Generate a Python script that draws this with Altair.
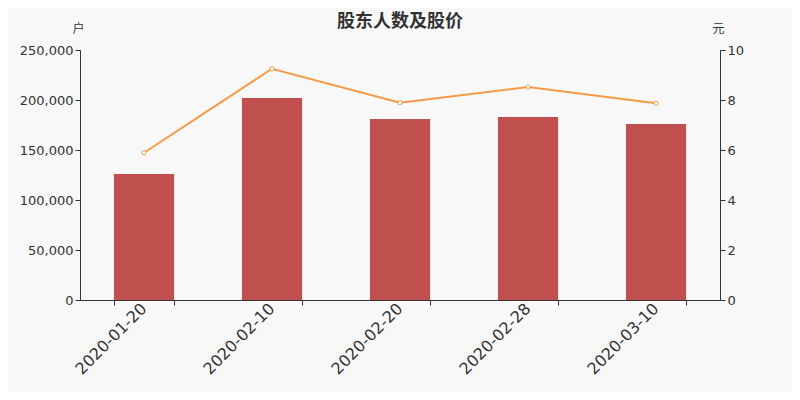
import altair as alt
import pandas as pd

dates = ["2020-01-20", "2020-02-10", "2020-02-20", "2020-02-28", "2020-03-10"]
holders = [126000, 202000, 181000, 183000, 176000]
prices = [5.89, 9.25, 7.89, 8.52, 7.87]

df = pd.DataFrame({"date": dates, "holders": holders, "price": prices})

font = "DejaVu Sans"
cjk = "Noto Sans CJK SC"

x = alt.X("date:N", title=None,
          scale=alt.Scale(paddingInner=0.53, paddingOuter=0.265),
          axis=alt.Axis(labelAngle=-45, labelFontSize=16, labelColor="#333333",
                        labelFont=font, tickBand="extent", tickSize=5,
                        tickColor="#333333", domainColor="#333333",
                        labelPadding=-5, labelOffset=-6))

bars = alt.Chart(df).mark_bar(color="#c0504d").encode(
    x=x,
    y=alt.Y("holders:Q", scale=alt.Scale(domain=[0, 250000]),
            axis=alt.Axis(title="户", titleAngle=0, titleX=-2, titleY=-22,
                          titleAlign="center", titleBaseline="middle",
                          titleFont=cjk, titleFontSize=12, titleFontWeight="normal",
                          titleColor="#333333",
                          values=[0, 50000, 100000, 150000, 200000, 250000],
                          labelExpr="format(datum.value, ',.0f')",
                          labelFontSize=13, labelColor="#333333",
                          labelFont=font, tickSize=5, tickColor="#333333",
                          domainColor="#333333", grid=False)),
)

line = alt.Chart(df).mark_line(
    color="#f79a45", strokeWidth=2,
    point=alt.OverlayMarkDef(filled=True, fill="white", stroke="#f79a45",
                             strokeWidth=1, size=18)
).encode(
    x=x,
    y=alt.Y("price:Q", scale=alt.Scale(domain=[0, 10]),
            axis=alt.Axis(orient="right", title="元", titleAngle=0, titleX=-2, titleY=-22,
                          titleAlign="center", titleBaseline="middle",
                          titleFont=cjk, titleFontSize=12, titleFontWeight="normal",
                          titleColor="#333333",
                          values=[0, 2, 4, 6, 8, 10], labelFontSize=13,
                          labelColor="#333333", labelFont=font, tickSize=5,
                          tickColor="#333333", domainColor="#333333", grid=False)),
)

chart = alt.layer(bars, line).resolve_scale(y="independent").properties(
    width=640, height=250,
    title=alt.TitleParams("股东人数及股价", font=cjk, fontSize=18, fontWeight="bold",
                          color="#333333", anchor="middle", frame="group", offset=-9),
    padding={"left": 72, "top": 42, "right": 72, "bottom": 92},
    autosize=alt.AutoSizeParams(type="none"),
    background="#f8f8f8",
).configure_view(stroke=None)

chart.save("out.html", embed_options={"renderer": "svg", "actions": False})
